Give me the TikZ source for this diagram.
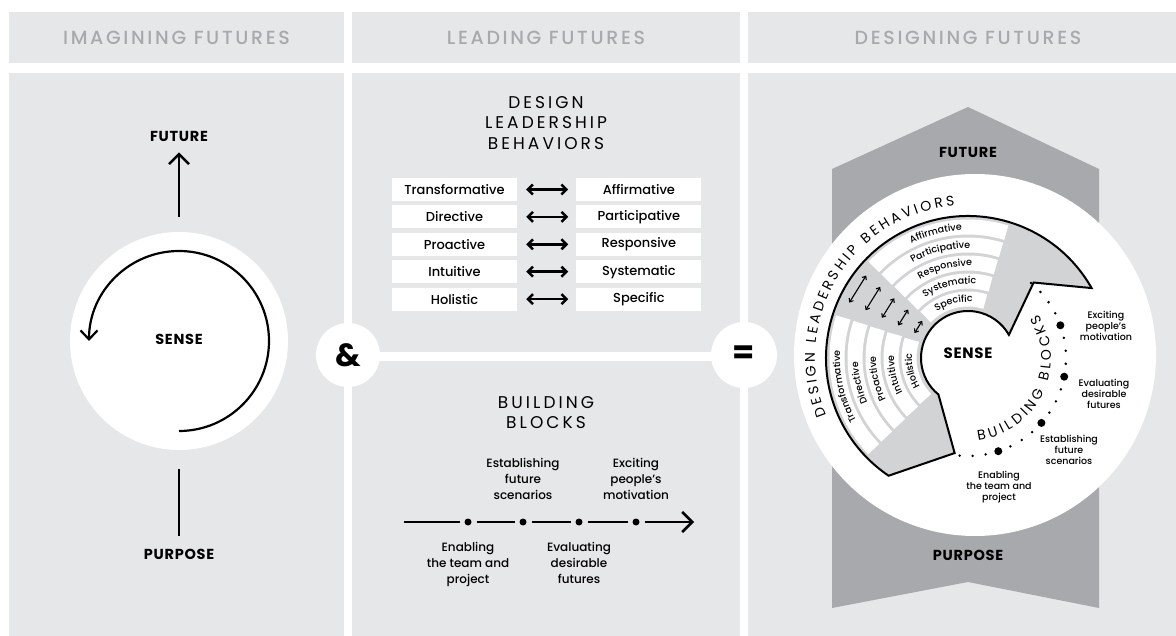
\documentclass[tikz,border=0pt]{standalone}
\usepackage{fontspec}
\setmainfont{Poppins}
\newfontfamily\mediumfont{Poppins Medium}
\newfontfamily\headerfont[LetterSpace=14]{Poppins Medium}
\newfontfamily\spacedfont[LetterSpace=18]{Poppins}
\newfontfamily\keywordfont[LetterSpace=5]{Poppins}
\usepackage{xcolor}
\usepackage{tikz}
\usetikzlibrary{arrows.meta, positioning, calc, decorations.text}

\definecolor{panelgrey}{HTML}{E6E7E8}
\definecolor{midgrey}{HTML}{A7A9AC}
\definecolor{ringgrey}{HTML}{D1D3D4}

\newcommand\bandtext{\mediumfont\fontsize{9.5}{9.5}\selectfont}
\newcommand\ringtext{\fontsize{14}{14}\selectfont}

\begin{document}
\begin{tikzpicture}[x=1pt, y=1pt,
  header/.style={text=midgrey, font=\headerfont\fontsize{19}{19}\selectfont},
  keyword/.style={inner sep=0pt, font=\keywordfont\bfseries\fontsize{14.5}{14.5}\selectfont},
  heading/.style={align=center, font=\spacedfont\fontsize{17}{20.5}\selectfont},
  box/.style={rectangle, fill=white, minimum width=125pt, minimum height=23pt, inner sep=0pt, font=\mediumfont\fontsize{13}{13}\selectfont},
  arrow/.style={-{Straight Barb[length=10pt, width=20pt]}, line width=2.5pt},
  pair/.style={{Straight Barb[length=5pt, width=10pt]}-{Straight Barb[length=5pt, width=10pt]}, line width=2.5pt, shorten <=9pt, shorten >=8pt},
  wpair/.style={{Straight Barb[length=3pt, width=5pt]}-{Straight Barb[length=3pt, width=5pt]}, line width=1.1pt},
  dot/.style={circle, fill=black, inner sep=0pt, minimum size=7pt, outer sep=5pt},
  lbl/.style={align=center, inner sep=0pt, font=\mediumfont\fontsize{12}{16}\selectfont},
  wdot/.style={circle, fill=black, inner sep=0pt, minimum size=8pt},
  wlbl/.style={align=center, inner sep=0pt, font=\mediumfont\fontsize{9.5}{11.2}\selectfont},
  roundel/.style={circle, fill=white, inner sep=0pt, font=\bfseries\fontsize{32}{32}\selectfont}
]
  \useasboundingbox (0,0) rectangle (1176,-636);

  % header strips and panels
  \fill[panelgrey] (9,-12) rectangle (344,-63);
  \fill[panelgrey] (352,-12) rectangle (740,-63);
  \fill[panelgrey] (748,-12) rectangle (1176,-63);
  \fill[panelgrey] (9,-73) rectangle (344,-636);
  \fill[panelgrey] (352,-73) rectangle (740,-352);
  \fill[panelgrey] (352,-361) rectangle (740,-636);
  \fill[panelgrey] (748,-73) rectangle (1176,-636);

  \node[header] (imagining) at (176.5,-37.5) {IMAGINING FUTURES};
  \node[header] (leading) at (546,-37.5) {LEADING FUTURES};
  \node[header] (designing) at (968,-37.5) {DESIGNING FUTURES};

  % imagining: sense loop between purpose and future
  \node[circle, fill=white, minimum size=218pt, inner sep=0pt] (sensering) at (179,-341) {};
  \node[keyword] (sense) at (179,-339) {SENSE};
  \node[keyword] (future) at (179,-136) {FUTURE};
  \node[keyword] (purpose) at (179,-554) {PURPOSE};
  \draw[arrow, shorten <=15pt, shorten >=11pt] (sensering.north) -- (future.south);
  \draw[line width=2.5pt, shorten <=19pt, shorten >=13pt] (sensering.south) -- (purpose.north);
  \draw[line width=2.2pt, -{Straight Barb[length=9pt, width=17pt]}] (sensering.center) ++(-90:90pt) arc[start angle=-90, end angle=180, radius=90pt];

  % joining circles
  \node[roundel, minimum size=64pt] (amp) at (348,-355) {\&};
  \node[roundel, minimum size=66pt] (eq) at (744,-355) {=};

  % leading: behaviours table
  \node[heading] (dlb) at (546,-123) {DESIGN\\LEADERSHIP\\BEHAVIORS};
  \node[box] (l1) at (454.5,-189.5) {Transformative};
  \node[box, below=4pt of l1] (l2) {Directive};
  \node[box, below=4pt of l2] (l3) {Proactive};
  \node[box, below=4pt of l3] (l4) {Intuitive};
  \node[box, below=4pt of l4] (l5) {Holistic};
  \node[box, right=59pt of l1] (r1) {Affirmative};
  \node[box, right=59pt of l2] (r2) {Participative};
  \node[box, right=59pt of l3] (r3) {Responsive};
  \node[box, right=59pt of l4] (r4) {Systematic};
  \node[box, right=59pt of l5] (r5) {Specific};
  \foreach \i in {1,...,5}
    \draw[pair] (l\i) -- (r\i);

  % leading: building blocks timeline
  \node[heading] (bb) at (546,-412.5) {BUILDING\\BLOCKS};
  \coordinate (tstart) at (404,-522);
  \node[dot] (m1) at (468,-522) {};
  \node[dot] (m2) at (523,-522) {};
  \node[dot] (m3) at (579,-522) {};
  \node[dot] (m4) at (636,-522) {};
  \coordinate (tend) at (694,-522);
  \draw[line width=2.5pt] (tstart) -- (m1) (m1) -- (m2) (m2) -- (m3) (m3) -- (m4);
  \draw[arrow] (m4) -- (tend);
  \node[lbl, above=14pt of m2] (est) {Establishing\\future\\scenarios};
  \node[lbl, above=14pt of m4] (exc) {Exciting\\people’s\\motivation};
  \node[lbl, below=12pt of m1] (ena) {Enabling\\the team and\\project};
  \node[lbl, below=12pt of m3] (eva) {Evaluating\\desirable\\futures};

  % designing: banner and wheel
  \fill[midgrey] (832,-169) -- (968,-107) -- (1099,-169) -- (1099,-608) -- (968,-582) -- (832,-608) -- cycle;
  \node[keyword] (rfuture) at (968,-152) {FUTURE};
  \node[keyword] (rpurpose) at (968,-555) {PURPOSE};
  \fill[white] (975,-355) circle[radius=181pt];

  \coordinate (C) at (968,-358);
  \draw[fill=ringgrey, line width=2pt, line join=miter]
    ($(C)+(29.5:142pt)$) arc[start angle=29.5, end angle=236, radius=142pt]
    -- ($(C)+(262:96pt)$) -- ($(C)+(231:47pt)$)
    arc[start angle=231, end angle=29.5, radius=47pt]
    -- ($(C)+(49:100pt)$) -- cycle;
  \foreach \r in {131,113,95,77,59} {
    \draw[white, line width=15pt] ($(C)+(136:\r pt)$) arc[start angle=136, end angle=73, radius=\r pt];
    \draw[white, line width=15pt] ($(C)+(224:\r pt)$) arc[start angle=224, end angle=162, radius=\r pt];
    \draw[wpair] ($(C)+(155:\r pt)$) -- ($(C)+(141:\r pt)$);
  }
  \path[decorate, decoration={text along path, text align=center, text={|\bandtext|Affirmative}}] ($(C)+(136:128pt)$) arc[start angle=136, end angle=73, radius=128pt];
  \path[decorate, decoration={text along path, text align=center, text={|\bandtext|Participative}}] ($(C)+(136:110pt)$) arc[start angle=136, end angle=73, radius=110pt];
  \path[decorate, decoration={text along path, text align=center, text={|\bandtext|Responsive}}] ($(C)+(136:92pt)$) arc[start angle=136, end angle=73, radius=92pt];
  \path[decorate, decoration={text along path, text align=center, text={|\bandtext|Systematic}}] ($(C)+(136:74pt)$) arc[start angle=136, end angle=73, radius=74pt];
  \path[decorate, decoration={text along path, text align=center, text={|\bandtext|Specific}}] ($(C)+(136:56pt)$) arc[start angle=136, end angle=73, radius=56pt];
  \path[decorate, decoration={text along path, text align=center, text={|\bandtext|Transformative}}] ($(C)+(224:128pt)$) arc[start angle=224, end angle=162, radius=128pt];
  \path[decorate, decoration={text along path, text align=center, text={|\bandtext|Directive}}] ($(C)+(224:110pt)$) arc[start angle=224, end angle=162, radius=110pt];
  \path[decorate, decoration={text along path, text align=center, text={|\bandtext|Proactive}}] ($(C)+(224:92pt)$) arc[start angle=224, end angle=162, radius=92pt];
  \path[decorate, decoration={text along path, text align=center, text={|\bandtext|Intuitive}}] ($(C)+(224:74pt)$) arc[start angle=224, end angle=162, radius=74pt];
  \path[decorate, decoration={text along path, text align=center, text={|\bandtext|Holistic}}] ($(C)+(224:56pt)$) arc[start angle=224, end angle=162, radius=56pt];

  \node[keyword, font=\keywordfont\bfseries\fontsize{15}{15}\selectfont] (wsense) at (968,-353) {SENSE};
  \path[decorate, decoration={text along path, text align={fit to path}, text={|\ringtext|DESIGN LEADERSHIP BEHAVIORS}}] ($(C)+(202:153pt)$) arc[start angle=202, end angle=95, radius=153pt];
  \path[decorate, decoration={text along path, text align={fit to path}, text={|\ringtext|BUILDING BLOCKS}}] ($(C)+(277:83pt)$) arc[start angle=277, end angle=392, radius=83pt];

  % building blocks around the wheel
  \foreach \k in {-3,-2,-1,1,2,3,5,6,7,9,10,11,13,14,15,16}
    \fill ($(C)+({288+7.625*\k}:98pt)$) circle[radius=1.4pt];
  \node[wdot] (w1) at ($(C)+(288:98pt)$) {};
  \node[wdot] (w2) at ($(C)+(318.5:98pt)$) {};
  \node[wdot] (w3) at ($(C)+(349:98pt)$) {};
  \node[wdot] (w4) at ($(C)+(379.5:98pt)$) {};
  \node[wlbl] (wena) at (999,-487) {Enabling\\the team and\\project};
  \node[wlbl] (west) at (1069,-450) {Establishing\\future\\scenarios};
  \node[wlbl] (weva) at (1104,-394) {Evaluating\\desirable\\futures};
  \node[wlbl] (wexc) at (1106,-326) {Exciting\\people’s\\motivation};
\end{tikzpicture}
\end{document}
